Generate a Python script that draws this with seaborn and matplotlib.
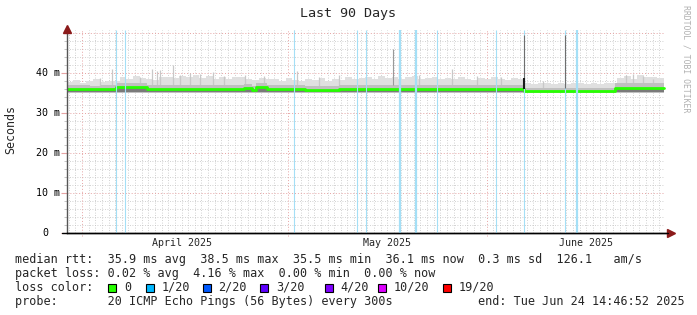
import numpy as np
import pandas as pd
import matplotlib
matplotlib.use("Agg")
import matplotlib.pyplot as plt
import matplotlib.transforms as mtransforms
from matplotlib.patches import Rectangle
from matplotlib.lines import Line2D
import seaborn as sns

# ---------------- data ----------------
START = pd.Timestamp("2025-03-25 16:00")
N_DAYS = 90

# median rtt (ms), step changes at these day offsets
med_day = [0, 3.5, 5.2, 7.43, 12.2, 16.5, 18.0, 22.0, 26.8, 27.9, 28.6, 30.2,
           36.0, 41.0, 47.0, 53.0, 60.0, 64.0, 68.95, 75.0, 82.7, 86.0]
med_ms = [36.0, 35.9, 36.0, 36.4, 35.9, 36.0, 35.9, 36.0, 36.3, 35.7, 36.4, 35.9,
          35.85, 35.95, 36.0, 35.95, 36.05, 35.95, 35.6, 35.55, 36.2, 36.3]
# upper edge of the dense (mid-gray) smoke, same breakpoints
mid_top_ms = [36.9, 36.8, 36.9, 37.4, 36.9, 37.0, 36.9, 37.0, 37.3, 36.7, 37.4, 36.9,
              36.8, 36.9, 37.0, 36.9, 37.0, 36.9, 36.3, 36.2, 37.4, 37.5]

# daily upper envelope of the light smoke (ms)
smoke_hi_ms = [37.8, 38.2, 37.6, 38.0, 38.4, 37.7, 37.9, 38.1,
               39.0, 38.6, 39.2, 38.8, 38.5, 38.3, 38.9,
               39.1, 38.7, 39.3, 38.9, 39.5, 38.8, 39.2, 38.6, 39.0, 38.4, 38.9, 39.1, 38.5, 38.2, 38.8, 38.6,
               38.4, 38.0, 38.7, 38.3, 37.9, 38.5, 38.2, 38.8, 38.1, 38.6, 38.3, 38.9, 38.4, 38.7,
               39.0, 38.6, 39.3, 38.8, 39.1, 38.5, 38.9, 39.2, 38.6, 38.7, 39.0, 38.4, 38.8, 38.5, 38.9,
               38.6, 38.3, 38.8, 38.4, 38.9, 38.5, 38.2, 38.7, 38.4,
               37.5, 37.3, 37.6, 37.4, 37.2, 37.5, 37.3, 37.6, 37.4, 37.2, 37.5, 37.3, 37.4, 37.6,
               38.8, 39.2, 38.6, 39.4, 38.9, 39.1, 38.7]
smoke_lo_ms = 35.0
dark_lo_ms = 35.3

# isolated smoke spikes (day offset, top ms)
spike_day = [5.03, 6.83, 11.04, 12.84, 13.59, 14.04, 16.0, 17.04, 18.54, 20.05, 22.0,
             23.8, 26.95, 29.8, 34.76, 38.06, 41.07, 50.08, 53.08, 58.03, 61.79,
             65.54, 71.85, 84.31, 85.36, 86.86, 88.36]
spike_ms = [38.8, 41.0, 39.0, 41.0, 40.5, 40.8, 42.0, 39.5, 40.0, 39.7, 40.2,
            39.3, 39.5, 39.2, 40.4, 39.0, 39.4, 42.5, 39.5, 41.0, 39.2,
            38.9, 38.0, 39.5, 39.8, 39.2, 38.6]
# tall (darker) outliers
tall_day = [49.17, 68.98, 75.17]
tall_ms = [46.0, 49.6, 49.6]

# packet-loss events (day offset, number of lossy steps)
loss_day = [7.43, 8.78, 34.31, 43.77, 45.12, 50.23, 52.63, 55.78, 64.79, 68.99, 75.15, 76.95]
loss_steps = [1, 1, 1, 1, 1, 2, 2, 1, 1, 1, 1, 2]

# axis labels
y_ticks = [0, 10, 20, 30, 40]
y_tick_labels = ["0", "10 m", "20 m", "30 m", "40 m"]
month_label_dates = ["2025-04-12", "2025-05-13", "2025-06-12"]
month_labels = ["April 2025", "May 2025", "June 2025"]
major_grid_dates = ["2025-03-28", "2025-04-28", "2025-05-28"]

legend_lines = [
    "median rtt:  35.9 ms avg  38.5 ms max  35.5 ms min  36.1 ms now  0.3 ms sd  126.1   am/s",
    "packet loss: 0.02 % avg  4.16 % max  0.00 % min  0.00 % now",
]
loss_labels = ["0", "1/20", "2/20", "3/20", "4/20", "10/20", "19/20"]
loss_colors = ["#26ff00", "#00b8ff", "#0059ff", "#5e00ff", "#7e00ff", "#dd00ff", "#ff0000"]
probe_text = "probe:       20 ICMP Echo Pings (56 Bytes) every 300s"
end_text = "end: Tue Jun 24 14:46:52 2025"

# ---------------- figure ----------------
sns.set_theme(style="white")
plt.rcParams["font.family"] = ["DejaVu Sans Mono", "DejaVu Sans"]

W, H = 697, 315
fig = plt.figure(figsize=(W / 100, H / 100), dpi=100)
fig.patch.set_facecolor("white")
AX_L, AX_R, AX_T, AX_B = 66.5, 666.0, 30.0, 233.0
ax = fig.add_axes([AX_L / W, 1 - AX_B / H, (AX_R - AX_L) / W, (AX_B - AX_T) / H])
ax.set_facecolor("white")

def t(days):
    return START + pd.to_timedelta(np.asarray(days, dtype=float), unit="D")

t0, t1 = START, START + pd.Timedelta(days=N_DAYS)
YMAX = 50.75

# grid
day_lines = pd.date_range("2025-03-26", "2025-06-24", freq="D")
maj = pd.to_datetime(major_grid_dates)
minor_days = [d for d in day_lines if d not in set(maj)]
grid_minor = dict(color="#c2c2c2", lw=0.6, linestyle=(0, (1, 2)), zorder=0.2)
grid_major = dict(color="#e6a3a3", lw=0.7, linestyle=(0, (1, 2)), zorder=0.3)
ax.vlines(minor_days, 0, YMAX, **grid_minor)
ax.vlines(maj, -0.75, YMAX, clip_on=False, **grid_major)
hmin = [v for v in np.arange(2, 51, 2) if v % 10 != 0]
ax.hlines(hmin, t0, t1, **grid_minor)
ax.hlines([10, 20, 30, 40, 50], t0, t1, **grid_major)

# smoke
edges = t(np.arange(N_DAYS + 1))
hi_ext = list(smoke_hi_ms) + [smoke_hi_ms[-1]]
ax.fill_between(edges, smoke_lo_ms, hi_ext, step="post", color="#e0e0e0", lw=0, zorder=1)
ax.vlines(t(spike_day), 36.0, spike_ms, color="#c8c8c8", lw=0.9, zorder=1.2)

md_edges = t(list(med_day) + [N_DAYS])
med_ext = list(med_ms) + [med_ms[-1]]
mid_ext = list(mid_top_ms) + [mid_top_ms[-1]]
ax.fill_between(md_edges, smoke_lo_ms + 0.1, mid_ext, step="post", color="#c0c0c0", lw=0, zorder=1.3)
ax.fill_between(md_edges, dark_lo_ms, med_ext, step="post", color="#7a7a7a", lw=0, zorder=1.4)

# median line
med_df = pd.DataFrame({"time": md_edges, "rtt": med_ext})
sns.lineplot(data=med_df, x="time", y="rtt", ax=ax, color="#26ff00", lw=2.0,
             drawstyle="steps-post", estimator=None, sort=False, zorder=2)

# loss lines
for d, n in zip(loss_day, loss_steps):
    ax.vlines(t([d]), 0, YMAX, color="#a4dff6", lw=0.8 * n, zorder=3)

# tall outliers
ax.vlines(t(tall_day[:1]), 37.0, tall_ms[:1], color="#9a9a9a", lw=0.8, zorder=4)
ax.vlines(t(tall_day[1:]), 36.2, tall_ms[1:], color="#6e6e6e", lw=0.8, zorder=4)
ax.vlines(t(tall_day[1:2]), 36.0, 38.7, color="#1a1a1a", lw=1.5, zorder=4.1)

# axes styling
ax.set_xlim(t0, t1)
ax.set_ylim(0, YMAX)
ax.set_xlabel("")
ax.set_ylabel("")
for s in ["top", "right"]:
    ax.spines[s].set_visible(False)
ax.spines["left"].set_color("#555555")
ax.spines["left"].set_linewidth(1.0)
ax.spines["bottom"].set_color("black")
ax.spines["bottom"].set_linewidth(1.0)

ax.set_xticks(pd.to_datetime(month_label_dates))
ax.set_xticklabels(month_labels, fontsize=7.2)
ax.tick_params(axis="x", which="major", length=0, pad=3.5)
ax.set_xticks(day_lines, minor=True)
ax.tick_params(axis="x", which="minor", length=2, color="#aaaaaa", width=0.6)

ax.set_yticks(y_ticks)
ax.set_yticklabels([])
ax.set_yticks(hmin, minor=True)
ax.tick_params(axis="y", which="major", length=4, color="#e6a3a3", width=0.8, left=True)
ax.tick_params(axis="y", which="minor", length=2, color="#bbbbbb", width=0.6, left=True)

ytr = mtransforms.blended_transform_factory(fig.transFigure, ax.transData)
for v, lab in zip(y_ticks, y_tick_labels):
    xpx = 42 if lab == "0" else 36
    ax.text(xpx / W, v, lab, transform=ytr, ha="left", va="center", fontsize=7.2,
            color="black", clip_on=False)

# arrows
fig.add_artist(Line2D([66.7 / W], [1 - 29 / H], marker="^", markersize=5.5,
                      color="#8b1a1a", linestyle="none", transform=fig.transFigure))
fig.add_artist(Line2D([670.5 / W], [1 - 233 / H], marker=">", markersize=5.5,
                      color="#8b1a1a", linestyle="none", transform=fig.transFigure))
fig.add_artist(Line2D([62 / W, 668 / W], [1 - 233 / H, 1 - 233 / H], color="black",
                      lw=1.0, transform=fig.transFigure))

# titles
fig.text(348 / W, 1 - 14 / H, "Last 90 Days", ha="center", va="center", fontsize=9.6)
fig.text(11 / W, 1 - 130 / H, "Seconds", rotation=90, ha="center", va="center", fontsize=8.4)
fig.text(686 / W, 1 - 59 / H, "RRDTOOL / TOBI OETIKER", rotation=270, ha="center",
         va="center", fontsize=5.9, color="#b0b0b0")

# legend
fs = 8.5
fig.text(15 / W, 1 - 259.3 / H, legend_lines[0], ha="left", va="center", fontsize=fs)
fig.text(15 / W, 1 - 273.3 / H, legend_lines[1], ha="left", va="center", fontsize=fs)
fig.text(15 / W, 1 - 287.3 / H, "loss color:", ha="left", va="center", fontsize=fs)
box_x = [108.3, 145.7, 203.0, 260.3, 325.3, 377.7, 442.7]
for bx, lab, col in zip(box_x, loss_labels, loss_colors):
    fig.add_artist(Rectangle((bx / W, 1 - 291.5 / H), 8 / W, 8 / H, transform=fig.transFigure,
                             facecolor=col, edgecolor="black", lw=0.8))
    fig.text((bx + 15.5) / W, 1 - 287.3 / H, lab, ha="left", va="center", fontsize=fs)
fig.text(15 / W, 1 - 301.3 / H, probe_text, ha="left", va="center", fontsize=fs)
fig.text(478.3 / W, 1 - 301.3 / H, end_text, ha="left", va="center", fontsize=fs)

fig.savefig("out.png", dpi=100, facecolor="white")
